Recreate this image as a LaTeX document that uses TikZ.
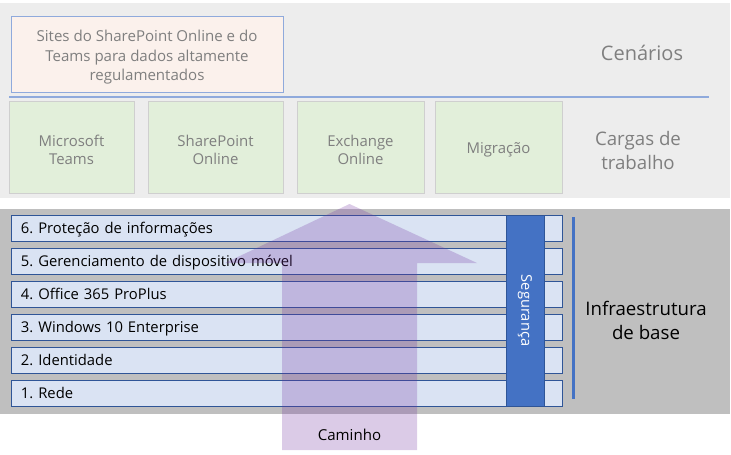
\documentclass[tikz,border=0pt]{standalone}
\usepackage{fontspec}
\setmainfont{Open Sans}
\usetikzlibrary{positioning}
\definecolor{panelgray}{HTML}{EDEDED}
\definecolor{basegray}{HTML}{BFBFBF}
\definecolor{scenfill}{HTML}{FBF1EC}
\definecolor{scenline}{HTML}{8FAADC}
\definecolor{workfill}{HTML}{E2EFDA}
\definecolor{workline}{HTML}{CFCFCF}
\definecolor{rowfill}{HTML}{DAE3F3}
\definecolor{rowline}{HTML}{2F5597}
\definecolor{secfill}{HTML}{4472C4}
\definecolor{pathfill}{HTML}{7030A0}
\definecolor{softtext}{HTML}{7F7F7F}
\frenchspacing
\tikzstyle{scenbox} = [rectangle, draw=scenline, line width=0.75pt, fill=scenfill, minimum width=204pt, minimum height=57pt]
\tikzstyle{workbox} = [rectangle, draw=workline, line width=0.75pt, fill=workfill, minimum height=69pt]
\tikzstyle{softlabel} = [text=softtext, align=center, font=\fontsize{11.2}{14}\selectfont]
\tikzstyle{layer} = [rectangle, draw=rowline, line width=0.75pt, fill=rowfill, text width=398.25pt, inner xsep=7.5pt, inner ysep=0pt, text height=9.5pt, text depth=2.6pt, minimum height=19.5pt, align=left, font=\fontsize{11.1}{12}\selectfont]
\tikzstyle{security} = [rectangle, draw=rowline, line width=0.75pt, fill=secfill, text=white, minimum width=28.5pt, minimum height=143.25pt]
\tikzstyle{tier} = [align=center, font=\fontsize{14}{18}\selectfont]
\tikzstyle{pathway} = [fill=pathfill, fill opacity=0.25]

\begin{document}
\begin{tikzpicture}[x=0.75pt, y=-0.75pt, node distance=4.5pt]
    \useasboundingbox (0,0) rectangle (731,454);
    % panels
    \fill[panelgray] (0,3) rectangle (730,198);
    \fill[basegray] (0,209) rectangle (730,414);

    % scenarios
    \node[scenbox] (sites) at (147,54) {};
    \node[softlabel, font=\fontsize{11.3}{14.4}\selectfont] at ([yshift=-2.4pt]sites.center) {Sites do SharePoint Online e do\\Teams para dados altamente\\regulamentados};
    \node[tier, text=softtext, font=\fontsize{15}{18}\selectfont] (scenarios) at (642,53) {Cenários};
    \coordinate (sepL) at (9,97);
    \coordinate (sepR) at (709,97);
    \draw[scenline, line width=1.5pt] (sepL) -- (sepR);

    % workloads
    \node[workbox, minimum width=93.75pt] (teams) at (71.5,147) {};
    \node[softlabel] at ([yshift=-2.2pt]teams.center) {Microsoft\\Teams};
    \node[workbox, minimum width=101.25pt] (spo) at (215.5,147) {};
    \node[softlabel] at ([yshift=-2.2pt]spo.center) {SharePoint\\Online};
    \node[workbox, minimum width=95.25pt] (exo) at (360.5,147) {};
    \node[softlabel] at ([yshift=-2.2pt]exo.center) {Exchange\\Online};
    \node[workbox, minimum width=95.25pt] (migr) at (498.5,147) {};
    \node[softlabel] at ([yshift=-2.2pt]migr.center) {Migração};
    \node[tier, text=softtext] (workloads) at (638,150) {Cargas de\\trabalho};

    % foundation layers
    \node[layer] (l6) at (286.5,228.5) {6. Proteção de informações};
    \node[layer, below=of l6] (l5) {5. Gerenciamento de dispositivo móvel};
    \node[layer, below=of l5] (l4) {4. Office 365 ProPlus};
    \node[layer, below=of l4] (l3) {3. Windows 10 Enterprise};
    \node[layer, below=of l3] (l2) {2. Identidade};
    \node[layer, below=of l2] (l1) {1. Rede};
    \node[security] (sec) at (525,310.5) {};
    \node[text=white, rotate=-90, font=\fontsize{11}{12}\selectfont] at (sec.center) {Segurança};

    \coordinate (barT) at (573,217);
    \coordinate (barB) at (573,399);
    \draw[secfill, line width=2.25pt] (barT) -- (barB);
    \node[tier] (infra) at (646,320) {Infraestrutura\\de base};

    % path arrow
    \fill[pathway] (282,450) -- (282,263) -- (225,263) -- (349.5,204) -- (477,263) -- (417,263) -- (417,450) -- cycle;
    \node[font=\fontsize{11.3}{12}\selectfont] (way) at (349.5,435) {Caminho};
\end{tikzpicture}
\end{document}
